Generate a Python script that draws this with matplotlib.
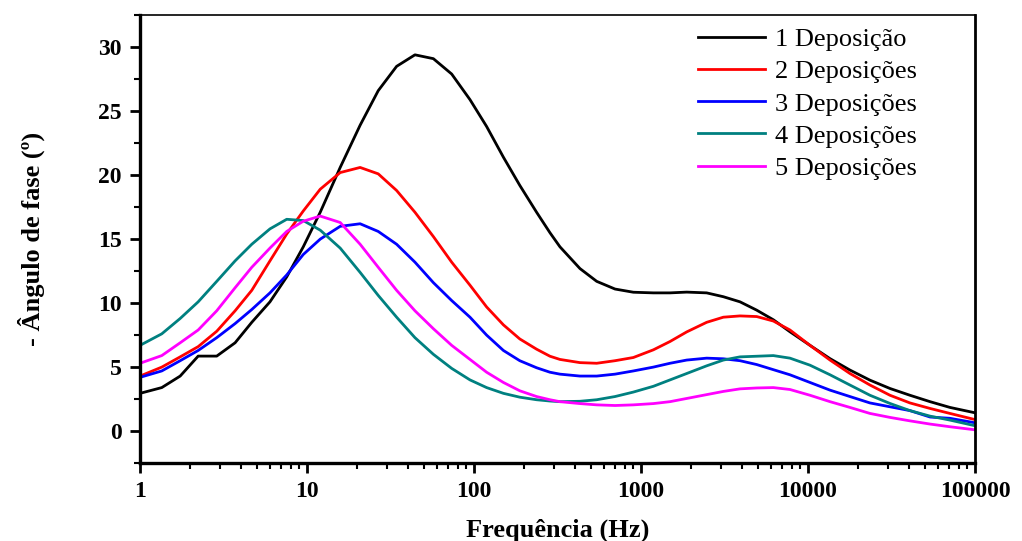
import matplotlib
matplotlib.use("Agg")
import matplotlib.pyplot as plt
from matplotlib.ticker import FixedLocator, LogLocator, MultipleLocator, NullFormatter

plt.rcParams['font.family'] = ['Liberation Serif', 'DejaVu Serif']

# frequency points (Hz)
freq = [1, 1.35, 1.74, 2.23, 2.88, 3.71, 4.67, 6.0, 7.56, 9.5, 12.0, 15.8, 20.8, 26.7,
        34.4, 44.3, 57.1, 73.5, 94.6, 119, 150, 188, 237, 285, 327, 431, 543, 699, 900,
        1186, 1492, 1878, 2473, 3112, 3917, 4930, 6200, 7800, 10280, 13550, 17830,
        23500, 30970, 40800, 53800, 70800, 100000]

dep1 = [2.95, 3.4, 4.3, 5.86, 5.86, 6.9, 8.5, 10.1, 12.05, 14.4, 17.1, 20.6, 23.9, 26.6,
        28.5, 29.4, 29.1, 27.9, 25.9, 23.8, 21.4, 19.2, 17.1, 15.5, 14.4, 12.7, 11.7, 11.1,
        10.85, 10.8, 10.8, 10.86, 10.8, 10.5, 10.1, 9.45, 8.7, 7.76, 6.7, 5.66, 4.77, 3.98,
        3.33, 2.8, 2.3, 1.85, 1.43]
dep2 = [4.3, 5.0, 5.8, 6.6, 7.8, 9.4, 11.0, 13.3, 15.4, 17.2, 18.9, 20.2, 20.6, 20.1,
        18.8, 17.1, 15.2, 13.2, 11.4, 9.7, 8.3, 7.2, 6.4, 5.85, 5.6, 5.35, 5.3, 5.5, 5.75,
        6.35, 7.0, 7.75, 8.5, 8.9, 9.0, 8.95, 8.6, 7.9, 6.7, 5.55, 4.5, 3.6, 2.8, 2.2,
        1.77, 1.38, 0.9]
dep3 = [4.2, 4.7, 5.5, 6.3, 7.3, 8.4, 9.5, 10.8, 12.2, 13.8, 15.0, 16.0, 16.2, 15.6,
        14.6, 13.2, 11.6, 10.2, 8.9, 7.5, 6.3, 5.5, 4.95, 4.6, 4.45, 4.3, 4.3, 4.45, 4.7,
        5.0, 5.3, 5.55, 5.7, 5.65, 5.5, 5.2, 4.8, 4.4, 3.8, 3.2, 2.7, 2.2, 1.9, 1.6, 1.1,
        1.0, 0.65]
dep4 = [6.7, 7.6, 8.8, 10.1, 11.7, 13.3, 14.6, 15.8, 16.55, 16.45, 15.7, 14.3, 12.4, 10.6,
        8.9, 7.3, 6.0, 4.9, 4.0, 3.4, 2.95, 2.65, 2.45, 2.35, 2.3, 2.33, 2.45, 2.7, 3.05, 3.5,
        4.0, 4.5, 5.1, 5.55, 5.8, 5.85, 5.9, 5.7, 5.15, 4.4, 3.6, 2.8, 2.16, 1.6, 1.17,
        0.86, 0.42]
dep5 = [5.3, 5.9, 6.9, 7.9, 9.4, 11.2, 12.8, 14.3, 15.6, 16.4, 16.8, 16.3, 14.6, 12.8,
        11.0, 9.4, 8.0, 6.7, 5.6, 4.6, 3.8, 3.15, 2.7, 2.45, 2.3, 2.15, 2.05, 2.0, 2.05,
        2.15, 2.3, 2.55, 2.85, 3.1, 3.3, 3.37, 3.4, 3.25, 2.8, 2.3, 1.85, 1.38, 1.07, 0.8,
        0.55, 0.34, 0.1]

labels = ['1 Deposição', '2 Deposições', '3 Deposições', '4 Deposições', '5 Deposições']
colors = ['black', '#ff0000', '#0000ff', '#008080', '#ff00ff']
series = [dep1, dep2, dep3, dep4, dep5]

fig = plt.figure(figsize=(10.22, 5.41), dpi=100)
ax = fig.add_axes([0.137, 0.144, 0.817, 0.828])

for vals, c, lab in zip(series, colors, labels):
    ax.plot(freq, vals, color=c, lw=2.0, label=lab)

ax.set_xscale('log')
ax.set_xlim(1, 100000)
ax.set_ylim(-2.5, 32.5)

ax.xaxis.set_major_locator(FixedLocator([1, 10, 100, 1000, 10000, 100000]))
ax.set_xticklabels(['1', '10', '100', '1000', '10000', '100000'])
ax.xaxis.set_minor_locator(LogLocator(base=10, subs=range(2, 10), numticks=20))
ax.xaxis.set_minor_formatter(NullFormatter())
ax.yaxis.set_major_locator(MultipleLocator(5))
ax.yaxis.set_minor_locator(MultipleLocator(2.5))

ax.tick_params(which='major', direction='out', length=7, width=2, labelsize=17, pad=6)
ax.tick_params(which='minor', direction='out', length=4, width=1.5)
for lab in ax.get_xticklabels() + ax.get_yticklabels():
    lab.set_fontweight('bold')

ax.spines['left'].set_linewidth(2.4)
ax.spines['bottom'].set_linewidth(2.4)
ax.spines['right'].set_linewidth(2.0)
ax.spines['top'].set_linewidth(1.2)

ax.set_xlabel('Frequência (Hz)', fontsize=19, fontweight='bold', labelpad=12)
ax.set_ylabel('- Ângulo de fase (º)', fontsize=19, fontweight='bold', labelpad=38)

ax.legend(loc='upper left', bbox_to_anchor=(0.668, 0.972), frameon=False, fontsize=19,
          handlelength=2.55, handletextpad=0.38, labelspacing=0.33, borderpad=0,
          borderaxespad=0)

fig.savefig('out.png', dpi=100)
